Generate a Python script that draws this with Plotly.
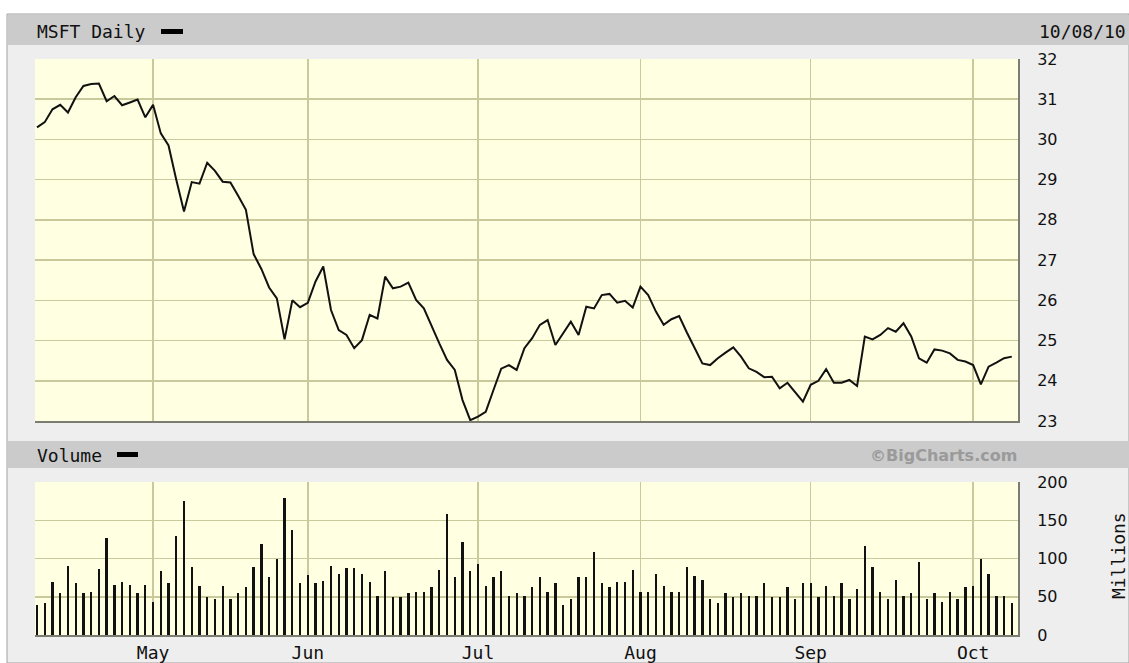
import plotly.graph_objects as go
import pandas as pd

W, H = 1129, 663

# ---------------- data ----------------
holidays = ["2010-05-31", "2010-07-05", "2010-09-06"]
dates = [d.strftime("%Y-%m-%d") for d in pd.bdate_range("2010-04-12", "2010-10-08")
         if d.strftime("%Y-%m-%d") not in holidays]

close = [30.30, 30.43, 30.75, 30.86, 30.67, 31.05, 31.33, 31.38, 31.39, 30.95,
         31.08, 30.85, 30.92, 30.99, 30.55, 30.86, 30.15, 29.85, 29.00, 28.21,
         28.94, 28.90, 29.42, 29.22, 28.95, 28.93, 28.60, 28.25, 27.15, 26.78,
         26.32, 26.05, 25.03, 26.00, 25.83, 25.94, 26.47, 26.84, 25.76, 25.26,
         25.14, 24.81, 25.01, 25.64, 25.55, 26.59, 26.30, 26.34, 26.44, 26.01,
         25.80, 25.35, 24.93, 24.52, 24.27, 23.52, 23.02, 23.11, 23.23, 23.77,
         24.30, 24.39, 24.27, 24.81, 25.06, 25.39, 25.51, 24.89, 25.18, 25.47,
         25.14, 25.84, 25.80, 26.13, 26.16, 25.94, 25.99, 25.82, 26.34, 26.13,
         25.72, 25.39, 25.53, 25.61, 25.20, 24.81, 24.43, 24.39, 24.56, 24.70,
         24.83, 24.60, 24.31, 24.22, 24.09, 24.10, 23.81, 23.95, 23.70, 23.48,
         23.90, 24.00, 24.29, 23.95, 23.95, 24.02, 23.87, 25.10, 25.03, 25.14,
         25.31, 25.22, 25.43, 25.10, 24.56, 24.45, 24.78, 24.75, 24.68, 24.52,
         24.48, 24.39, 23.91, 24.35, 24.45, 24.56, 24.60]

volume = [38.9, 41.2, 69.9, 54.4, 90.7, 67.7, 54.4, 56.6, 86.3, 127.4,
          65.0, 69.9, 65.0, 54.4, 65.0, 43.4, 83.2, 67.7, 129.6, 174.8,
          88.5, 64.6, 49.1, 46.5, 64.6, 46.5, 54.4, 62.4, 88.5, 119.5,
          75.2, 98.7, 179.2, 137.6, 67.7, 77.9, 67.7, 70.8, 90.7, 80.1,
          87.6, 87.6, 80.1, 69.9, 51.3, 83.2, 49.1, 49.1, 54.4, 56.6,
          56.6, 62.4, 85.4, 158.4, 75.2, 122.1, 83.2, 92.9, 64.6, 75.2,
          83.2, 51.3, 54.4, 51.3, 62.4, 75.2, 56.6, 67.7, 38.9, 46.5,
          75.2, 75.2, 108.8, 67.7, 62.4, 69.9, 69.9, 85.4, 56.6, 56.6,
          80.1, 64.6, 56.6, 56.6, 88.5, 77.4, 72.1, 46.5, 41.2, 54.4,
          49.1, 54.4, 51.3, 51.3, 67.7, 49.1, 49.1, 62.4, 46.5, 67.7,
          67.7, 49.1, 64.6, 51.3, 67.7, 46.5, 59.7, 116.4, 88.5, 56.6,
          46.5, 72.1, 51.3, 54.4, 95.6, 46.5, 54.4, 43.4, 56.6, 46.5,
          62.4, 64.6, 98.7, 80.1, 51.3, 51.3, 41.2]

month_ticks = ["2010-05-03", "2010-06-01", "2010-07-01", "2010-08-02", "2010-09-01", "2010-10-01"]
month_labels = ["May", "Jun", "Jul", "Aug", "Sep", "Oct"]
price_ticks = [23, 24, 25, 26, 27, 28, 29, 30, 31, 32]
volume_ticks = [0, 50, 100, 150, 200]

# ---------------- style ----------------
GRID = "#c9c99c"
AXIS = "#7c7c70"
PLOT_BG = "#ffffe2"
PAGE_BG = "#eeeeee"
BAR_BG = "#cbcbcb"
MONO = "DejaVu Sans Mono"
SANS = "DejaVu Sans"


def px(x):
    return x / W


def py(y):
    return 1 - y / H


fig = go.Figure()
fig.add_trace(go.Scatter(x=dates, y=close, mode="lines",
                         line=dict(color="#111111", width=2),
                         xaxis="x", yaxis="y", hoverinfo="skip"))
fig.add_trace(go.Bar(x=dates, y=volume, width=0.3,
                     marker=dict(color="#111111", line=dict(width=0)),
                     xaxis="x2", yaxis="y2", hoverinfo="skip"))

x_dom = [px(35), px(1018)]
x_range = [-0.26, 126.8]

shapes = [
    dict(type="rect", xref="paper", yref="paper", x0=px(7), x1=px(1129), y0=py(663), y1=py(14),
         fillcolor=PAGE_BG, line=dict(color="#a0a0a0", width=1), layer="below"),
    dict(type="rect", xref="paper", yref="paper", x0=px(8), x1=px(1129), y0=py(45), y1=py(15),
         fillcolor=BAR_BG, line=dict(width=0), layer="below"),
    dict(type="rect", xref="paper", yref="paper", x0=px(8), x1=px(1129), y0=py(468), y1=py(441),
         fillcolor=BAR_BG, line=dict(width=0), layer="below"),
    dict(type="rect", xref="paper", yref="paper", x0=px(35), x1=px(1018), y0=py(421), y1=py(59),
         fillcolor=PLOT_BG, line=dict(width=0), layer="below"),
    dict(type="rect", xref="paper", yref="paper", x0=px(35), x1=px(1018), y0=py(635), y1=py(482),
         fillcolor=PLOT_BG, line=dict(width=0), layer="below"),
    dict(type="rect", xref="paper", yref="paper", x0=px(161), x1=px(183), y0=py(34), y1=py(29),
         fillcolor="#000000", line=dict(width=0)),
    dict(type="rect", xref="paper", yref="paper", x0=px(117), x1=px(138), y0=py(457), y1=py(452),
         fillcolor="#000000", line=dict(width=0)),
]

annotations = [
    dict(text="MSFT Daily", x=px(35), y=py(31), xref="paper", yref="paper",
         xanchor="left", yanchor="middle", showarrow=False,
         font=dict(family=MONO, size=18, color="#111111")),
    dict(text="10/08/10", x=px(1128), y=py(31), xref="paper", yref="paper",
         xanchor="right", yanchor="middle", showarrow=False,
         font=dict(family=MONO, size=18, color="#111111")),
    dict(text="Volume", x=px(35), y=py(455), xref="paper", yref="paper",
         xanchor="left", yanchor="middle", showarrow=False,
         font=dict(family=MONO, size=18, color="#111111")),
    dict(text="<b>©BigCharts.com</b>", x=px(1019), y=py(455), xref="paper", yref="paper",
         xanchor="right", yanchor="middle", showarrow=False,
         font=dict(family=SANS, size=16, color="#9a9a9a")),
    dict(text="Millions", x=px(1118), y=py(556), xref="paper", yref="paper",
         xanchor="center", yanchor="middle", showarrow=False, textangle=-90,
         font=dict(family=MONO, size=18, color="#111111")),
]

fig.update_layout(
    width=W, height=H,
    autosize=False,
    margin=dict(l=0, r=0, t=0, b=0, pad=0, autoexpand=False),
    paper_bgcolor="#ffffff",
    plot_bgcolor="rgba(0,0,0,0)",
    showlegend=False,
    hovermode=False,
    bargap=0,
    shapes=shapes,
    annotations=annotations,
    xaxis=dict(domain=x_dom, type="category", range=x_range, tickvals=month_ticks,
               showticklabels=False, ticks="", showgrid=True, gridcolor=GRID, gridwidth=1.5,
               showline=True, linecolor=AXIS, linewidth=2, anchor="y", automargin=False),
    yaxis=dict(domain=[py(421), py(59)], range=[23, 32], side="right", tickvals=price_ticks,
               ticks="", ticklabelstandoff=14, showgrid=True, gridcolor=GRID, gridwidth=1.5,
               zeroline=False, showline=True, linecolor=AXIS, linewidth=2, anchor="x",
               automargin=False, tickfont=dict(family=SANS, size=16, color="#111111")),
    xaxis2=dict(domain=x_dom, type="category", range=x_range, tickvals=month_ticks,
                ticktext=month_labels, ticks="", showgrid=True, gridcolor=GRID, gridwidth=1.5,
                showline=True, linecolor=AXIS, linewidth=2, anchor="y2", automargin=False,
                tickfont=dict(family=MONO, size=18, color="#111111")),
    yaxis2=dict(domain=[py(635), py(482)], range=[0, 200], side="right", tickvals=volume_ticks,
                ticks="", ticklabelstandoff=14, showgrid=True, gridcolor=GRID, gridwidth=1.5,
                zeroline=False, showline=True, linecolor=AXIS, linewidth=2, anchor="x2",
                automargin=False, tickfont=dict(family=SANS, size=16, color="#111111")),
)

fig.write_html("out.html",
               config={"displayModeBar": False, "staticPlot": True},
               post_script="document.body.style.margin='0px';document.body.style.overflow='hidden';")
